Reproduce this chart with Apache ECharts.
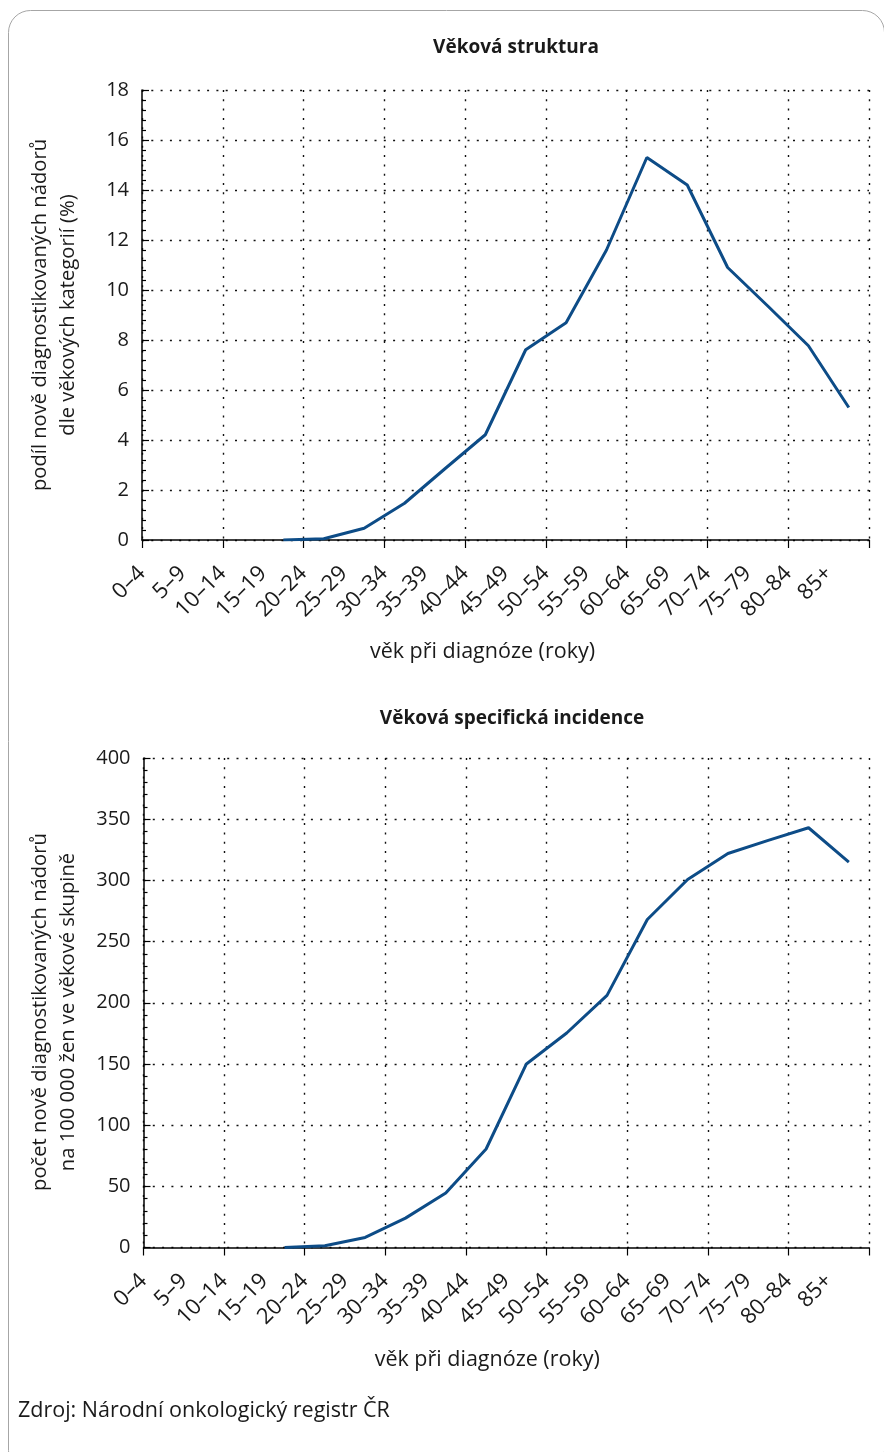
<!DOCTYPE html>
<html>
<head>
<meta charset="utf-8">
<script src="https://cdn.jsdelivr.net/npm/echarts@6/dist/echarts.min.js"></script>
<style>
  html, body { margin: 0; padding: 0; background: #ffffff; }
  #chart { width: 884px; height: 1452px; }
</style>
</head>
<body>
<div id="chart"></div>
<script>
// ---- data ----
const categories = ['0–4', '5–9', '10–14', '15–19', '20–24', '25–29', '30–34', '35–39', '40–44',
  '45–49', '50–54', '55–59', '60–64', '65–69', '70–74', '75–79', '80–84', '85+'];
const shareValues = [null, null, null, 0, 0.05, 0.47, 1.47, 2.85, 4.21, 7.61, 8.69, 11.6, 15.3, 14.2, 10.9, 9.35, 7.77, 5.3];
const incidenceValues = [null, null, null, 0, 1.4, 8.2, 24, 44.6, 80.5, 150, 175.3, 206, 268, 300.7, 322, 332.7, 343, 315];
const shareAxis = { min: 0, max: 18, interval: 2 };
const incidenceAxis = { min: 0, max: 400, interval: 50 };
const titleTop = 'Věková struktura';
const titleBottom = 'Věková specifická incidence';
const yNameTop = 'podíl nově diagnostikovaných nádorů\ndle věkových kategorií (%)';
const yNameBottom = 'počet nově diagnostikovaných nádorů\nna 100 000 žen ve věkové skupině';
const xName = 'věk při diagnóze (roky)';
const sourceText = 'Zdroj: Národní onkologický registr ČR';
// label slots sit on the category boundaries
const labelSlots = categories.concat(['']);

const FONT = 'Open Sans';
const FS = 20;      // y tick labels
const FSX = 22;     // x category labels
const FSN = 21.5;   // x axis names, source
const FSY = 20.2;   // y axis names
const TXT = '#1a1a1a';
const LINE = '#0d4c87';
const dotted = { color: '#111', width: 1.4, type: [2, 7.3] };

function dataXAxis(grid, padRight) {
  return {
    gridIndex: grid, type: 'category', data: categories, boundaryGap: true, position: 'bottom',
    axisLine: { show: true, onZero: false, lineStyle: { color: '#000', width: 1.5 } },
    axisTick: { show: true, length: 8, lineStyle: { color: '#000', width: 1.2 } },
    axisLabel: { show: false },
    splitLine: { show: true, lineStyle: dotted },
    name: xName, nameLocation: 'middle', nameGap: 101,
    nameTextStyle: { fontFamily: FONT, fontSize: FSN, color: TXT, padding: [0, padRight, 0, 0] }
  };
}
function labelXAxis(grid) {
  return {
    gridIndex: grid, type: 'category', data: labelSlots, boundaryGap: false, position: 'bottom',
    axisLine: { show: false }, axisTick: { show: false }, splitLine: { show: false },
    axisLabel: { show: true, interval: 0, rotate: 45, margin: 30, padding: [24, 0, 0, 0],
      fontFamily: FONT, fontSize: FSX, color: TXT }
  };
}
function valueYAxis(grid, ax) {
  return {
    gridIndex: grid, type: 'value', min: ax.min, max: ax.max, interval: ax.interval,
    axisLine: { show: true, lineStyle: { color: '#000', width: 1.5 } },
    axisTick: { show: true, inside: true, length: 7, lineStyle: { color: '#000', width: 1.2 } },
    minorTick: { show: true, splitNumber: 5, length: 4, lineStyle: { color: '#000', width: 1.2 } },
    axisLabel: { margin: 13, fontFamily: FONT, fontSize: FS, color: TXT },
    splitLine: { show: true, lineStyle: dotted }
  };
}
function yNameText(text, cx, cy) {
  return {
    type: 'text', x: cx, y: cy, rotation: Math.PI / 2, silent: true,
    style: { text: text, fontFamily: FONT, fontSize: FSY, fill: TXT, align: 'center',
      verticalAlign: 'middle', lineHeight: 28 }
  };
}

const chart = echarts.init(document.getElementById('chart'), null, { renderer: 'canvas' });
chart.setOption({
  animation: false,
  backgroundColor: '#ffffff',
  textStyle: { fontFamily: FONT },
  title: [
    { text: titleTop, left: 511, top: 33, textAlign: 'center',
      textStyle: { fontFamily: FONT, fontSize: 19, fontWeight: 'bold', color: TXT } },
    { text: titleBottom, left: 507, top: 704, textAlign: 'center',
      textStyle: { fontFamily: FONT, fontSize: 19, fontWeight: 'bold', color: TXT } }
  ],
  grid: [
    { left: 142, top: 90, width: 727, height: 450 },
    { left: 143.5, top: 758, width: 725.5, height: 489.5 }
  ],
  xAxis: [dataXAxis(0, 46), labelXAxis(0), dataXAxis(1, 38), labelXAxis(1)],
  yAxis: [valueYAxis(0, shareAxis), valueYAxis(1, incidenceAxis)],
  series: [
    { type: 'line', xAxisIndex: 0, yAxisIndex: 0, data: shareValues, showSymbol: false, symbol: 'none',
      lineStyle: { color: LINE, width: 3 }, connectNulls: false, z: 5 },
    { type: 'line', xAxisIndex: 2, yAxisIndex: 1, data: incidenceValues, showSymbol: false, symbol: 'none',
      lineStyle: { color: LINE, width: 3 }, connectNulls: false, z: 5 }
  ],
  graphic: [
    { type: 'rect', shape: { x: 8.5, y: 10.5, width: 876, height: 1462, r: 22 },
      style: { fill: 'none', stroke: '#a6a6a6', lineWidth: 1 }, silent: true, z: -1 },
    yNameText(yNameTop, 54, 315),
    yNameText(yNameBottom, 54, 1012),
    { type: 'text', left: 18, top: 1400,
      style: { text: sourceText, fontFamily: FONT, fontSize: FSN, fill: TXT } }
  ]
});
</script>
</body>
</html>
